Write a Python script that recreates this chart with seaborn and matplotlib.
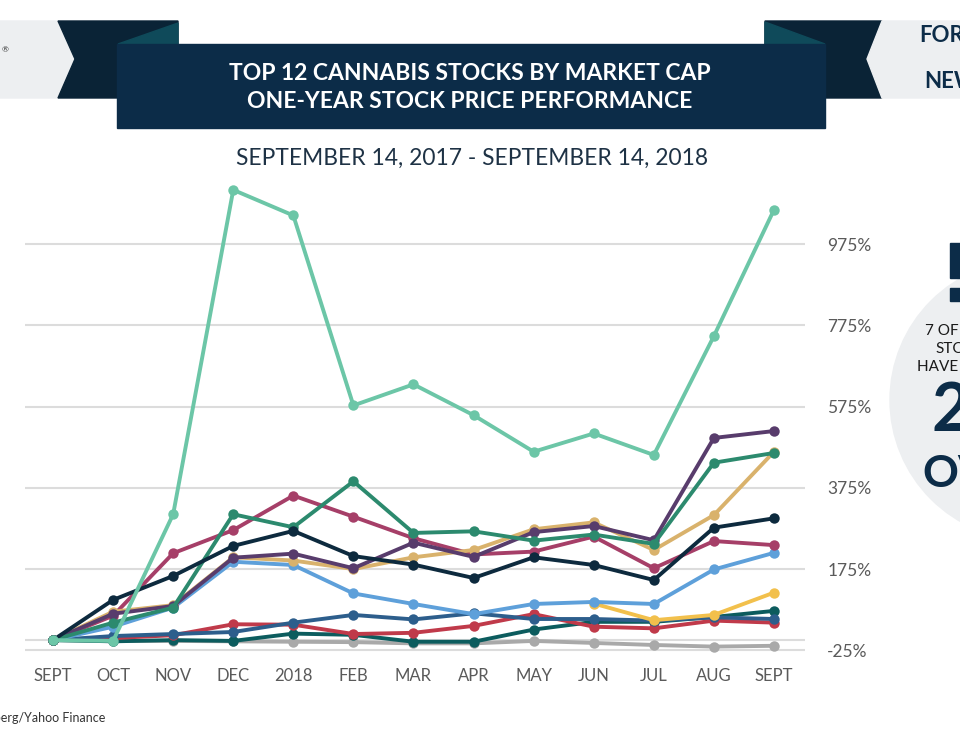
import matplotlib.pyplot as plt
import matplotlib.patches as mpatches
import numpy as np
import pandas as pd
import seaborn as sns

sns.set_theme(style='white')
plt.rcParams['font.family'] = ['Lato', 'DejaVu Sans']

# Months along the x axis (Sept 2017 .. Sept 2018)
months = ['SEPT', 'OCT', 'NOV', 'DEC', '2018', 'FEB', 'MAR', 'APR',
          'MAY', 'JUN', 'JUL', 'AUG', 'SEPT']

# Price change in % for each stock
mint = [0, -2, 310, 1109, 1046, 578, 630, 554, 464, 509, 456, 749, 1060]
purple = [0, 65, 84, 203, 213, 177, 240, 205, 266, 281, 246, 498, 515]
green = [0, 43, 80, 310, 278, 391, 264, 268, 245, 260, 237, 437, 461]
gold = [0, 70, 86, 204, 196, 175, 204, 222, 273, 290, 222, 308, 464]
navy = [0, 99, 158, 232, 269, 207, 186, 153, 204, 185, 148, 277, 300]
raspberry = [0, 60, 214, 271, 356, 304, 251, 211, 218, 255, 177, 244, 234]
light_blue = [0, 33, 80, 193, 185, 115, 89, 64, 89, 94, 89, 174, 215]
yellow = [None, None, None, None, None, None, None, None, None, 90, 49, 62, 117]
steel_blue = [0, 10, 15, 20, 43, 62, 51, 66, 52, 52, 48, 56, 52]
red = [0, 5, 12, 39, 38, 15, 18, 35, 64, 33, 29, 48, 43]
dark_teal = [0, -3, 0, -2, 16, 13, -4, -4, 26, 45, 45, 57, 72]
gray = [0, -2, -2, -3, -4, -5, -8, -8, -2, -7, -12, -16, -14]

series = {
    'gray': gray, 'dark_teal': dark_teal, 'red': red, 'steel_blue': steel_blue,
    'yellow': yellow, 'light_blue': light_blue, 'raspberry': raspberry,
    'gold': gold, 'purple': purple, 'green': green, 'navy': navy, 'mint': mint,
}
colors = {
    'gray': '#A9A9A9', 'dark_teal': '#0C5C5E', 'red': '#C03A4A',
    'steel_blue': '#2D5E8C', 'yellow': '#F2C04C', 'light_blue': '#5EA0DA',
    'raspberry': '#A63F68', 'gold': '#D9B26C', 'purple': '#583C6C',
    'green': '#2C8A6E', 'navy': '#0D2A3E', 'mint': '#6CC6A7',
}

rows = []
for name, vals in series.items():
    for i, v in enumerate(vals):
        if v is not None:
            rows.append({'stock': name, 'month': i, 'change': v})
df = pd.DataFrame(rows)

fig = plt.figure(figsize=(9.6, 7.5), dpi=100)

# background layer in pixel coordinates (header ribbons, circle, notes)
bg = fig.add_axes([0, 0, 1, 1], zorder=0)
bg.set_xlim(0, 960)
bg.set_ylim(750, 0)
bg.axis('off')

light = '#EDEFF1'
dark = '#0A2336'
banner = '#0C2C48'
fold = '#0F4A5A'
bg.add_patch(mpatches.Polygon([(0, 21), (58, 21), (75, 59), (58, 98), (0, 98)], color=light))
bg.add_patch(mpatches.Polygon([(58, 21), (178, 21), (178, 98), (58, 98), (75, 59)], color=dark))
bg.add_patch(mpatches.Polygon([(118, 44), (178, 23), (178, 44)], color=fold))
bg.add_patch(mpatches.Polygon([(765, 21), (882, 21), (867, 59), (882, 98), (765, 98)], color=dark))
bg.add_patch(mpatches.Polygon([(882, 21), (960, 21), (960, 98), (882, 98), (867, 59)], color=light))
bg.add_patch(mpatches.Polygon([(765, 22), (825, 44), (765, 44)], color=fold))
bg.add_patch(mpatches.Rectangle((117, 44), 708, 84, color=banner))

bg.text(2, 50, '®', fontsize=6, color='#333333', va='center')
bg.text(919, 35, 'FOR', fontsize=16, fontweight='bold', color=banner, va='center')
bg.text(924, 82, 'NEW', fontsize=16, fontweight='bold', color=banner, va='center')

bg.text(470, 73, 'TOP 12 CANNABIS STOCKS BY MARKET CAP', fontsize=16.5,
        fontweight='bold', color='white', ha='center', va='center')
bg.text(470, 102, 'ONE-YEAR STOCK PRICE PERFORMANCE', fontsize=16.5,
        fontweight='bold', color='white', ha='center', va='center')
bg.text(472, 158, 'SEPTEMBER 14, 2017 - SEPTEMBER 14, 2018', fontsize=16.4,
        color='#1E3245', ha='center', va='center')

# side note circle, cut by the right edge
bg.add_patch(mpatches.Circle((1030, 400), 140, color=light))
bg.add_patch(mpatches.Rectangle((950, 243), 12, 35, color=banner))
bg.add_patch(mpatches.Rectangle((950, 288), 12, 13, color=banner))
bg.text(925, 331, '7 OF THE 12', fontsize=11, color='#1A1A1A', va='center')
bg.text(935, 349, 'STOCKS', fontsize=11, color='#1A1A1A', va='center')
bg.text(917, 367, 'HAVE GAINED', fontsize=11, color='#1A1A1A', va='center')
bg.text(932, 412, '2', fontsize=48, fontweight='bold', color=banner, va='center')
bg.text(922, 474, 'OVER', fontsize=32, fontweight='bold', color=banner, va='center')

bg.text(105, 718, 'Source: Bloomberg/Yahoo Finance', fontsize=9,
        color='#333333', ha='right', va='center')

# the chart itself
ax = fig.add_axes([25 / 960, 90 / 750, 780 / 960, 490 / 750], zorder=1)
ax.patch.set_alpha(0)
sns.lineplot(data=df, x='month', y='change', hue='stock', hue_order=list(series),
             palette=colors, marker='o', markersize=7.5, markeredgewidth=0,
             linewidth=2.8, estimator=None, legend=False, ax=ax)

ax.set_xlim(-0.466, 12.516)
ax.set_ylim(-49, 1158)
ax.set_xticks(range(len(months)))
ax.set_xticklabels(months)
ax.yaxis.tick_right()
ax.set_yticks([-25, 0, 175, 375, 575, 775, 975])
ax.set_yticklabels(['-25%', '', '175%', '375%', '575%', '775%', '975%'])
ax.grid(axis='y', color='#DCDCDC', linewidth=1.5)
ax.set_axisbelow(True)
ax.tick_params(axis='y', length=0, pad=16, labelsize=12.5, labelcolor='#5A5A5A')
ax.tick_params(axis='x', length=0, pad=6, labelsize=12, labelcolor='#5A5A5A')
ax.set_xlabel('')
ax.set_ylabel('')
for s in ax.spines.values():
    s.set_visible(False)

fig.savefig('out.png', dpi=100)
